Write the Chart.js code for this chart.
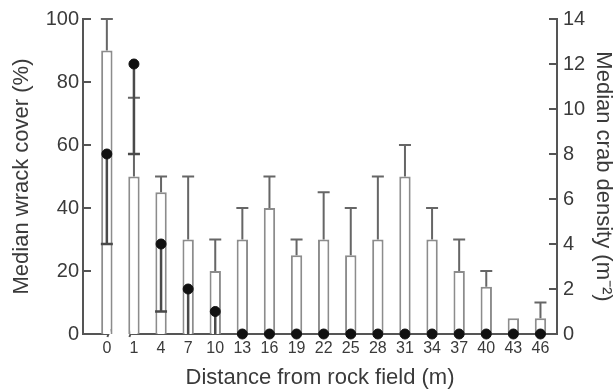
<!DOCTYPE html>
<html>
<head>
<meta charset="utf-8">
<script src="https://cdn.jsdelivr.net/npm/chart.js@4.4.0/dist/chart.umd.min.js"></script>
<style>
  html, body { margin: 0; padding: 0; background: #fff; }
  #wrap { width: 616px; height: 391px; }
</style>
</head>
<body>
<div id="wrap"><canvas id="wrackChart"></canvas></div>
<script>
// Wrack cover (bars, left axis) and crab density (dots, right axis)

var distances = ['0', '1', '4', '7', '10', '13', '16', '19', '22', '25', '28', '31', '34', '37', '40', '43', '46'];
var wrackCover = [90, 50, 45, 30, 20, 30, 40, 25, 30, 25, 30, 50, 30, 20, 15, 5, 5];
var wrackUpper = [100, 75, 50, 50, 30, 40, 50, 30, 45, 40, 50, 60, 40, 30, 20, null, 10];
var crabDensity = [8, 12, 4, 2, 1, 0, 0, 0, 0, 0, 0, 0, 0, 0, 0, 0, 0];
var crabLower = [4, 8, 1, 0, 0, null, null, null, null, null, null, null, null, null, null, null, null];
var coverTicks = [0, 20, 40, 60, 80, 100];
var densityTicks = [0, 2, 4, 6, 8, 10, 12, 14];

var font = 'Liberation Sans, Arial, Helvetica, sans-serif';
var ink = '#3a3a3a';
var axisGrey = '#555';

var bits = {
	id: 'bits',
	beforeDatasetsDraw: function(chart) {
		var ctx = chart.ctx, area = chart.chartArea, x = chart.scales.x;
		var p0 = x.getPixelForValue(0), p1 = x.getPixelForValue(1);
		var mid = (p0 + p1) / 2, gap = 11;
		ctx.save();
		ctx.strokeStyle = axisGrey;
		ctx.lineWidth = 2;
		ctx.beginPath();
		ctx.moveTo(area.left, area.bottom); ctx.lineTo(mid - gap, area.bottom);
		ctx.moveTo(mid + gap, area.bottom); ctx.lineTo(area.right, area.bottom);
		// break marks
		ctx.moveTo(mid - gap - 2, area.bottom + 3); ctx.lineTo(mid - gap + 1, area.bottom - 5);
		ctx.moveTo(mid + gap - 2, area.bottom + 3); ctx.lineTo(mid + gap + 1, area.bottom - 5);
		// inward ticks
		chart.scales.y.ticks.forEach(function(t) {
			var py = chart.scales.y.getPixelForValue(t.value);
			ctx.moveTo(area.left, py); ctx.lineTo(area.left + 8, py);
		});
		chart.scales.y2.ticks.forEach(function(t) {
			var py = chart.scales.y2.getPixelForValue(t.value);
			ctx.moveTo(area.right - 8, py); ctx.lineTo(area.right, py);
		});
		ctx.stroke();
		ctx.restore();
	},
	afterDatasetDraw: function(chart, args) {
		if (args.index !== 0) return;
		var ctx = chart.ctx, x = chart.scales.x, y = chart.scales.y, y2 = chart.scales.y2;
		var cap = 6;
		ctx.save();
		ctx.lineCap = 'butt';
		for (var i = 0; i < distances.length; i++) {
			var px = x.getPixelForValue(i);
			if (wrackUpper[i] != null) {
				var yb = y.getPixelForValue(wrackCover[i]), yh = y.getPixelForValue(wrackUpper[i]);
				ctx.strokeStyle = '#666';
				ctx.lineWidth = 2;
				ctx.beginPath();
				ctx.moveTo(px, yb); ctx.lineTo(px, yh);
				ctx.moveTo(px - cap, yh); ctx.lineTo(px + cap, yh);
				ctx.stroke();
			}
			if (crabLower[i] != null) {
				var yc = y2.getPixelForValue(crabDensity[i]), yl = y2.getPixelForValue(crabLower[i]);
				ctx.strokeStyle = '#4a4a4a';
				ctx.lineWidth = 2.5;
				ctx.beginPath();
				ctx.moveTo(px, yc); ctx.lineTo(px, yl);
				if (crabLower[i] > 0) { ctx.moveTo(px - cap, yl); ctx.lineTo(px + cap, yl); }
				ctx.stroke();
			}
		}
		ctx.restore();
	}
};

var ctx = document.getElementById('wrackChart').getContext('2d');
var wrackChart = new Chart(ctx, {
	type: 'bar',
	data: {
		datasets: [{
			label: 'Median wrack cover',
			data: wrackCover.map(function(v, i) { return { x: i, y: v }; }),
			yAxisID: 'y',
			backgroundColor: '#ffffff',
			borderColor: '#8c8c8c',
			borderWidth: 2,
			barPercentage: 0.42,
			categoryPercentage: 1,
			order: 1
		}, {
			type: 'scatter',
			label: 'Median crab density',
			data: crabDensity.map(function(v, i) { return { x: i, y: v }; }),
			yAxisID: 'y2',
			backgroundColor: '#111',
			borderColor: '#111',
			pointRadius: 5,
			clip: false,
			order: 0
		}]
	},
	options: {
		responsive: true,
		maintainAspectRatio: false,
		animation: false,
		layout: { padding: { top: 19, left: 0, right: 0, bottom: 0 } },
		plugins: {
			legend: { display: false },
			tooltip: { enabled: false }
		},
		scales: {
			x: {
				type: 'linear',
				offset: false,
				min: -0.88,
				max: 16.61,
				grid: { display: false, drawTicks: false },
				border: { display: false },
				afterBuildTicks: function(s) { s.ticks = distances.map(function(d, i) { return { value: i }; }); },
				afterFit: function(s) { s.height = 57; },
				ticks: {
					autoSkip: false,
					maxRotation: 0,
					padding: 5,
					color: ink,
					font: { family: font, size: 16 },
					callback: function(v) { return distances[v]; }
				},
				title: {
					display: true,
					text: 'Distance from rock field (m)',
					color: ink,
					padding: 0,
					font: { family: font, size: 22 }
				}
			},
			y: {
				position: 'left',
				min: 0,
				max: 100,
				grid: { display: false, drawTicks: false },
				border: { display: true, color: axisGrey, width: 2 },
				afterBuildTicks: function(s) { s.ticks = coverTicks.map(function(v) { return { value: v }; }); },
				afterFit: function(s) { s.width = 83; },
				ticks: { padding: 4, color: ink, font: { family: font, size: 20 } },
				title: {
					display: true,
					text: 'Median wrack cover (%)',
					color: ink,
					padding: { top: 9, bottom: 0 },
					font: { family: font, size: 22 }
				}
			},
			y2: {
				position: 'right',
				min: 0,
				max: 14,
				grid: { display: false, drawTicks: false },
				border: { display: true, color: axisGrey, width: 2 },
				afterBuildTicks: function(s) { s.ticks = densityTicks.map(function(v) { return { value: v }; }); },
				afterFit: function(s) { s.width = 59; },
				ticks: { padding: 6, color: ink, font: { family: font, size: 20 } },
				title: {
					display: true,
					text: 'Median crab density (m\u207B\u00B2)',
					color: ink,
					padding: { top: 0, bottom: 0 },
					font: { family: font, size: 22 }
				}
			}
		}
	},
	plugins: [bits]
});
</script>
</body>
</html>
